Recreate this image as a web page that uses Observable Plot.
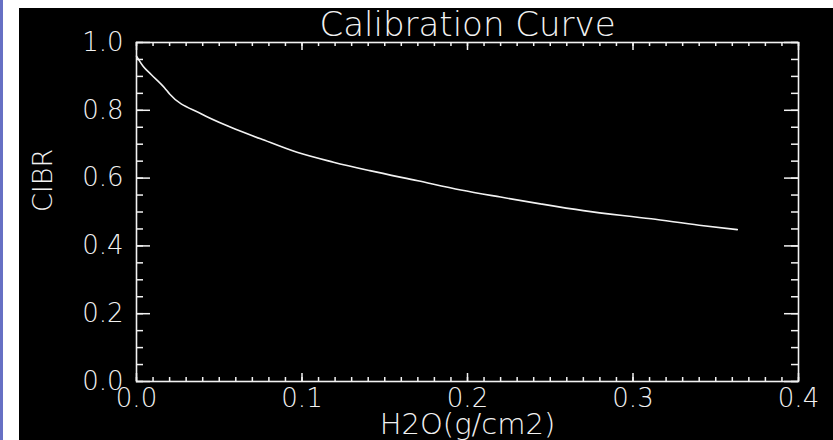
<!DOCTYPE html>
<html>
<head>
<meta charset="utf-8">
<script src="https://cdn.jsdelivr.net/npm/d3@7"></script>
<script src="https://cdn.jsdelivr.net/npm/@observablehq/plot@0.6"></script>
<style>
  html, body { margin: 0; padding: 0; background: #ffffff; width: 833px; height: 440px; overflow: hidden; }
  #strip { position: absolute; left: 0; top: 0; width: 3px; height: 440px; background: #6670c4; }
  #chart { position: absolute; left: 19px; top: 8px; }
</style>
</head>
<body>
<div id="strip"></div>
<div id="chart"></div>
<script>
// ---- data ----
const titleText = "Calibration Curve";
const xLabel = "H2O(g/cm2)";
const yLabel = "CIBR";
const xMajor = [0, 0.1, 0.2, 0.3, 0.4];
const yMajor = [0, 0.2, 0.4, 0.6, 0.8, 1.0];
const h2o  = [0.000, 0.004, 0.009, 0.017, 0.020, 0.039, 0.057, 0.075, 0.097, 0.119, 0.141, 0.170, 0.196, 0.220, 0.244, 0.270, 0.311, 0.340, 0.363];
const cibr = [0.960, 0.930, 0.905, 0.866, 0.848, 0.790, 0.750, 0.716, 0.676, 0.647, 0.622, 0.592, 0.565, 0.544, 0.524, 0.504, 0.480, 0.461, 0.448];

const data = h2o.map((x, i) => ({x, y: cibr[i]}));
const xMinor = d3.range(0, 41).map(i => i / 100);
const yMinor = d3.range(0, 21).map(i => i / 20);

const W = 814, H = 432;
const mL = 117, mT = 34, mR = 35, mB = 59;
const fw = W - mL - mR, fh = H - mT - mB;
const fg = "#f2f2f2";
const font = "'DejaVu Sans', 'Liberation Sans', sans-serif";

const chart = Plot.plot({
  width: W, height: H,
  marginLeft: mL, marginTop: mT, marginRight: mR, marginBottom: mB,
  style: {background: "#000", color: fg, fontFamily: font, fontWeight: 300},
  x: {domain: [0, 0.4], axis: null},
  y: {domain: [0, 1], axis: null},
  marks: [
    Plot.frame({stroke: fg, strokeWidth: 1.6}),
    // minor ticks (inward) on all four sides
    Plot.tickX(xMinor, {x: d => d, stroke: fg, strokeWidth: 1.5, insetTop: fh - 4}),
    Plot.tickX(xMinor, {x: d => d, stroke: fg, strokeWidth: 1.5, insetBottom: fh - 4}),
    Plot.tickY(yMinor, {y: d => d, stroke: fg, strokeWidth: 1.5, insetRight: fw - 7}),
    Plot.tickY(yMinor, {y: d => d, stroke: fg, strokeWidth: 1.5, insetLeft: fw - 7}),
    // major ticks
    Plot.tickX(xMajor, {x: d => d, stroke: fg, strokeWidth: 1.5, insetTop: fh - 8}),
    Plot.tickX(xMajor, {x: d => d, stroke: fg, strokeWidth: 1.5, insetBottom: fh - 8}),
    Plot.tickY(yMajor, {y: d => d, stroke: fg, strokeWidth: 1.5, insetRight: fw - 14}),
    Plot.tickY(yMajor, {y: d => d, stroke: fg, strokeWidth: 1.5, insetLeft: fw - 14}),
    // tick labels
    Plot.axisX(xMajor, {tickSize: 0, tickPadding: 7, tickFormat: d3.format(".1f"), fontSize: 26, fill: fg, label: null}),
    Plot.axisY(yMajor, {tickSize: 0, tickPadding: 13, tickFormat: d3.format(".1f"), fontSize: 26, fill: fg, label: null}),
    // curve
    Plot.line(data, {x: "x", y: "y", stroke: fg, strokeWidth: 1.6, curve: "monotone-x"}),
    // title and axis labels
    Plot.text([titleText], {text: d => d, frameAnchor: "top", lineAnchor: "bottom", dy: -7, fontSize: 34, fill: fg, style: "letter-spacing:0.6px"}),
    Plot.text([xLabel], {text: d => d, frameAnchor: "bottom", lineAnchor: "bottom", dy: 52, fontSize: 29, fill: fg}),
    Plot.text([yLabel], {text: d => d, frameAnchor: "left", rotate: -90, dx: -93, fontSize: 27, fill: fg})
  ]
});
document.getElementById("chart").appendChild(chart);
</script>
</body>
</html>
